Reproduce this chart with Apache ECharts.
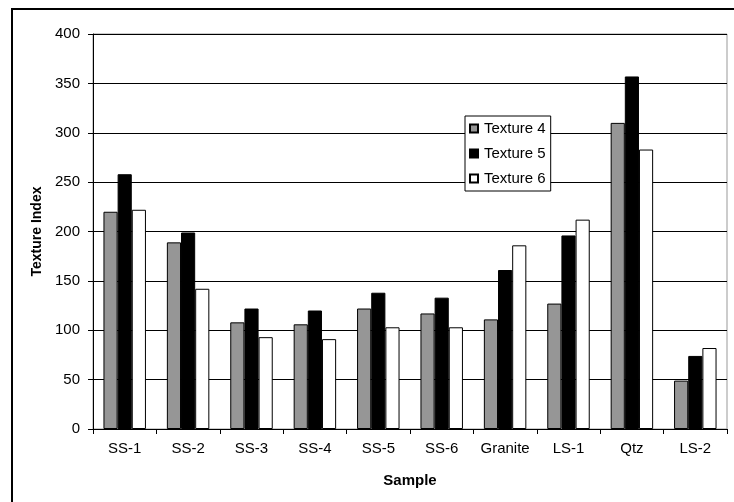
<!DOCTYPE html>
<html><head><meta charset="utf-8">
<script src="https://cdn.jsdelivr.net/npm/echarts@6/dist/echarts.min.js"></script>
<style>html,body{margin:0;padding:0;background:#fff}#c{width:734px;height:502px}</style>
</head><body><div id="c"></div>
<script>
const categories = ['SS-1','SS-2','SS-3','SS-4','SS-5','SS-6','Granite','LS-1','Qtz','LS-2'];
const texture4 = [220, 189, 108, 106, 122, 117, 111, 127, 310, 49];
const texture5 = [258, 199, 122, 120, 138, 133, 161, 196, 357, 74];
const texture6 = [222, 142, 93, 91, 103, 103, 186, 212, 283, 82];
const yTicks = {min: 0, max: 400, interval: 50};

const FONT = '"Liberation Sans", Arial, sans-serif';
const chart = echarts.init(document.getElementById('c'), null, {renderer: 'canvas'});
const mk = (name, data, color) => ({
  name, type: 'bar', data, barGap: '0%', barCategoryGap: '33%',
  itemStyle: {color, borderColor: '#000', borderWidth: 1}
});
chart.setOption({
  animation: false,
  textStyle: {fontFamily: FONT},
  graphic: [{
    type: 'rect', shape: {x: 12, y: 9, width: 740, height: 510},
    style: {fill: 'none', stroke: '#000', lineWidth: 2}, silent: true, z: 100
  }],
  grid: {left: 93, right: 7, top: 34, bottom: 73, show: true, borderColor: '#999', borderWidth: 1},
  legend: {
    orient: 'vertical', left: 465, top: 116,
    data: ['Texture 4', 'Texture 5', 'Texture 6'],
    icon: 'rect', itemWidth: 8, itemHeight: 8, itemGap: 10,
    backgroundColor: '#fff', borderColor: '#000', borderWidth: 1,
    padding: [5, 5, 5, 4],
    textStyle: {fontSize: 15, color: '#000', fontFamily: FONT, padding: [0, 0, 0, 1]}
  },
  xAxis: {
    type: 'category', data: categories,
    name: 'Sample', nameLocation: 'middle', nameGap: 44,
    nameTextStyle: {fontSize: 15, fontWeight: 'bold', color: '#000', fontFamily: FONT},
    axisLine: {lineStyle: {color: '#000', width: 1}},
    axisTick: {show: true, length: 5, lineStyle: {color: '#000'}},
    axisLabel: {fontSize: 15, color: '#000', margin: 12, interval: 0, fontFamily: FONT}
  },
  yAxis: {
    type: 'value', min: yTicks.min, max: yTicks.max, interval: yTicks.interval,
    name: 'Texture Index', nameLocation: 'middle', nameGap: 49, nameRotate: 90,
    nameTextStyle: {fontSize: 14, fontWeight: 'bold', color: '#000', fontFamily: FONT},
    axisLine: {show: true, lineStyle: {color: '#000', width: 1}},
    axisTick: {show: true, length: 5, lineStyle: {color: '#000'}},
    axisLabel: {fontSize: 15, color: '#000', margin: 13, fontFamily: FONT},
    splitLine: {show: true, lineStyle: {color: '#000', width: 1}}
  },
  series: [
    mk('Texture 4', texture4, '#969696'),
    mk('Texture 5', texture5, '#000000'),
    mk('Texture 6', texture6, '#ffffff')
  ]
});
</script></body></html>
